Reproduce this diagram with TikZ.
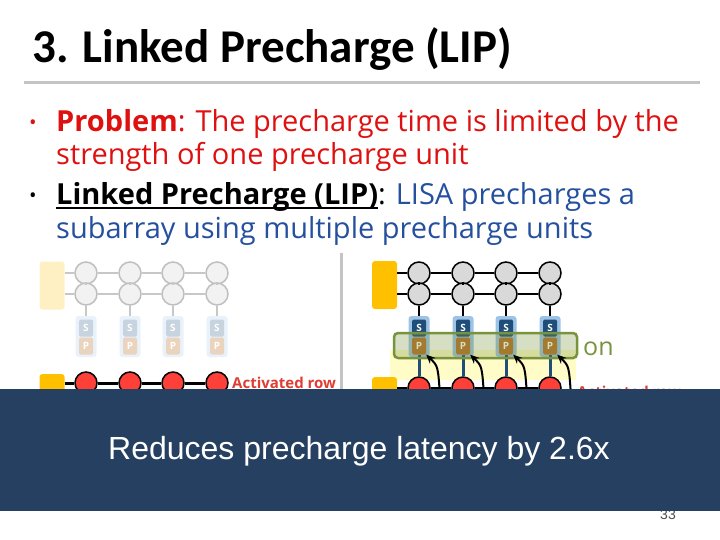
\documentclass[tikz,border=0pt]{standalone}
\usepackage{fontspec}
\setmainfont{Open Sans}
\newfontfamily\titlefont{Carlito}
\newfontfamily\arialfont{Liberation Sans}
\usetikzlibrary{arrows.meta,positioning,calc}

\definecolor{probred}{RGB}{222,16,16}
\definecolor{lipblue}{RGB}{36,80,158}
\definecolor{rulegray}{RGB}{196,196,196}
\definecolor{drvyellow}{RGB}{255,192,0}
\definecolor{drvpale}{RGB}{255,240,196}
\definecolor{cellgray}{RGB}{217,217,217}
\definecolor{actred}{RGB}{255,64,56}
\definecolor{sadark}{RGB}{31,78,121}
\definecolor{pbrown}{RGB}{184,112,40}
\definecolor{saouter}{RGB}{157,195,230}
\definecolor{linkgreen}{RGB}{119,147,60}
\definecolor{banner}{RGB}{38,64,97}
\definecolor{actlabel}{RGB}{224,60,50}

% underline that sits just below the baseline
\newcommand{\lipul}[1]{\setbox0\hbox{#1}\rlap{\rule[-3.5pt]{\wd0}{1.5pt}}\box0}

\begin{document}
\begin{tikzpicture}[x=1pt,y=-1pt,
    txt/.style={anchor=base west,inner sep=0pt,font=\fontsize{29}{29}\selectfont},
    dot/.style={anchor=base west,inner sep=0pt,font=\fontsize{20}{20}\selectfont},
    cell/.style={circle,draw=black,fill=cellgray,line width=1.5pt,minimum size=22pt,inner sep=0pt},
    fadecell/.style={circle,draw=black!25,fill=black!5,line width=1.5pt,minimum size=22pt,inner sep=0pt},
    actcell/.style={circle,draw=black,fill=actred,line width=1.5pt,minimum size=22pt,inner sep=0pt},
    drv/.style={rectangle,rounded corners=3pt,fill=drvyellow,minimum width=25pt,inner sep=0pt},
    sabox/.style={rectangle,rounded corners=3pt,fill=saouter,minimum width=21pt,minimum height=41pt,inner sep=0pt},
    unitbox/.style={rectangle,rounded corners=1.5pt,minimum width=14pt,minimum height=17pt,inner sep=0pt,
      text=white,font=\bfseries\fontsize{10}{10}\selectfont},
    actlbl/.style={anchor=base west,inner sep=0pt,text=actlabel,font=\bfseries\fontsize{15}{15}\selectfont},
    wire/.style={line width=2pt,black},
    fadewire/.style={line width=2pt,black!22},
    liparrow/.style={line width=2pt,-{Stealth[length=9pt,width=8pt]}}]
\useasboundingbox (0,0) rectangle (720,540);

% title
\node[anchor=base west,inner sep=0pt,font=\titlefont\bfseries\fontsize{47}{47}\selectfont] (title) at (32,63) {3. Linked Precharge (LIP)};
\draw[rulegray,line width=3pt] (24,83) -- (700,83);

% bullets
\node[dot,text=probred] (dotA) at (29,130) {•};
\node[txt,text=probred] (probA) at (56,132) {\textbf{Problem}: The precharge time is limited by the};
\node[txt,text=probred] (probB) at (56,165) {strength of one precharge unit};
\node[dot] (dotB) at (29,203) {•};
\node[txt] (lipA) at (56,205) {\lipul{\textbf{Linked Precharge (LIP)}}: \textcolor{lipblue}{LISA precharges a}};
\node[txt,text=lipblue] (lipB) at (56,238) {subarray using multiple precharge units};

% separator
\draw[rulegray,line width=3pt] (341,253) -- (341,400);

% left subarray (faded)
\node[drv,fill=drvpale,minimum height=48pt] (drvL) at (52,285.5) {};
\node[drv,minimum height=22pt] (drvLa) at (52,385) {};
\foreach \x [count=\i] in {86,130,173,217} {
  \node[fadecell] (cL\i a) at (\x,273) {};
  \node[fadecell] (cL\i b) at (\x,294) {};
  \node[sabox,fill=saouter!22] (saL\i) at (\x,336.5) {};
  \node[unitbox,fill=sadark!25] (sL\i) at (\x,328) {S};
  \node[unitbox,fill=pbrown!30] (pL\i) at (\x,346) {P};
  \node[actcell] (aL\i) at (\x,383) {};
  \draw[fadewire] (cL\i a) -- (cL\i b) -- (saL\i);
}
\draw[fadewire] (drvL.east |- cL1a) -- (cL1a) -- (cL2a) -- (cL3a) -- (cL4a);
\draw[fadewire] (drvL.east |- cL1b) -- (cL1b) -- (cL2b) -- (cL3b) -- (cL4b);
\draw[wire,line width=3pt] (drvLa.east |- aL1) -- (aL1) -- (aL2) -- (aL3) -- (aL4);
\node[actlbl] (actL) at (232,388) {Activated row};

% right subarray (linked precharge)
\fill[yellow!22] (390,350) rectangle (576,380);
\node[drv,minimum height=48pt] (drvR) at (384.5,285) {};
\node[drv,minimum height=22pt] (drvRa) at (384.5,388) {};
\foreach \x [count=\i] in {419,463,506,550} {
  \node[cell] (cR\i a) at (\x,273) {};
  \node[cell] (cR\i b) at (\x,294) {};
  \node[sabox] (saR\i) at (\x,336.5) {};
  \node[unitbox,fill=sadark] (sR\i) at (\x,328) {S};
  \node[unitbox,fill=pbrown] (pR\i) at (\x,346) {P};
  \node[actcell] (aR\i) at (\x,388) {};
  \draw[wire] (cR\i a) -- (cR\i b) -- (saR\i);
  \draw[sadark,line width=3pt] (pR\i) -- (aR\i);
  \coordinate (tR\i) at (\x+21,396);
}
\draw[wire] (drvR.east |- cR1a) -- (cR1a) -- (cR2a) -- (cR3a) -- (cR4a);
\draw[wire] (drvR.east |- cR1b) -- (cR1b) -- (cR2b) -- (cR3b) -- (cR4b);
\draw[wire,line width=3pt] (drvRa.east |- aR1) -- (aR1) -- (aR2) -- (aR3) -- (aR4);
\node[rectangle,rounded corners=4pt,draw=linkgreen,line width=2.5pt,fill=linkgreen,fill opacity=0.3,
  minimum width=183pt,minimum height=25pt] (link) at (485.5,345.5) {};
\node[anchor=base west,inner sep=0pt,text=linkgreen,font=\fontsize{25}{25}\selectfont] (on) at (583,355) {on};
\foreach \i in {1,...,4}
  \draw[liparrow] (tR\i) .. controls ($(tR\i)+(-2,-30)$) .. (pR\i.south east);
\node[actlbl] (actR) at (577,397) {Activated row};

% page number
\node[anchor=base east,inner sep=0pt,text=black!70,font=\arialfont\fontsize{14}{14}\selectfont] (page) at (676,519) {33};

% result banner
\fill[banner] (0,389) rectangle (720,511);
\node[text=white,font=\arialfont\fontsize{32}{32}\selectfont] (result) at (359,451) {Reduces precharge latency by 2.6x};
\end{tikzpicture}
\end{document}
